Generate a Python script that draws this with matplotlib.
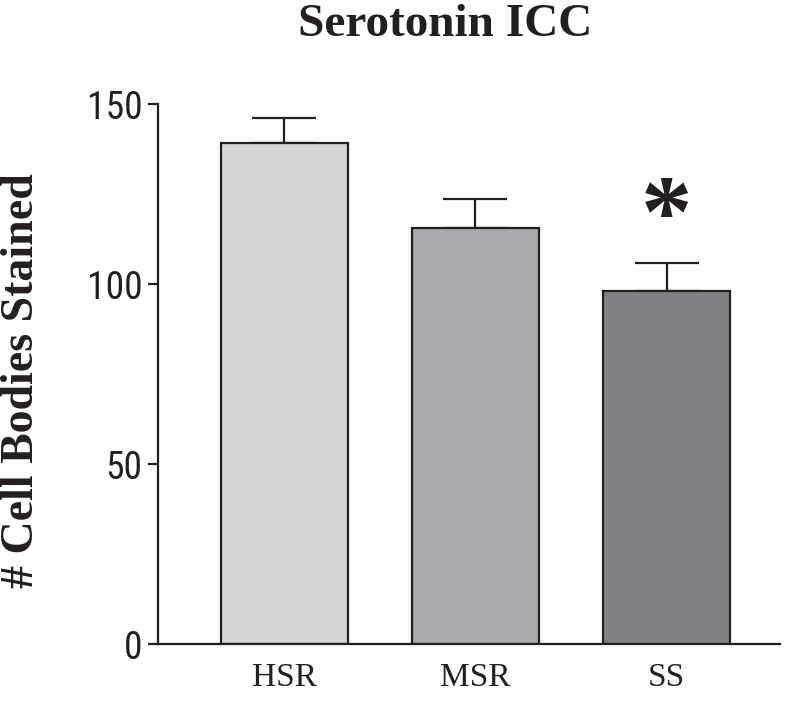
import numpy as np
import matplotlib
matplotlib.use("Agg")
import matplotlib.pyplot as plt

# values
groups = ["HSR", "MSR", "SS"]
means = [139.2, 115.6, 98.1]
sem = [7.0, 8.0, 7.7]
bar_colors = ["#d4d5d7", "#a9aaad", "#808184"]
yticks = [0, 50, 100, 150]

narrow = ["Liberation Sans Narrow", "Roboto Condensed", "Noto Sans Condensed", "Liberation Sans"]

fig = plt.figure(figsize=(8, 7.01), dpi=100)
ax = fig.add_axes([0.1975, 0.0813, 0.7775, 0.7703])

x = np.arange(len(groups))
ax.bar(x, means, width=0.665, color=bar_colors, edgecolor="#231f20", linewidth=1.6, zorder=2)
ax.errorbar(x, means, yerr=[np.zeros(len(sem)), sem], fmt="none", ecolor="#231f20",
            elinewidth=1.6, capsize=23, capthick=1.6, zorder=1)

# significance marker over SS
ax.text(x[2], means[2] + sem[2] + 4.8, "*", ha="center", va="baseline",
        fontsize=74, fontweight="bold", family="Liberation Serif", color="#231f20")

ax.set_xlim(-0.662, 2.594)
ax.set_ylim(0, 150)
ax.set_yticks(yticks)
ax.set_xticks(x)
ax.set_xticklabels(groups, family="Liberation Serif", fontsize=24)
for lab in ax.get_yticklabels():
    lab.set_family(narrow)
    lab.set_fontsize(27)

ax.spines["top"].set_visible(False)
ax.spines["right"].set_visible(False)
for s in ["left", "bottom"]:
    ax.spines[s].set_linewidth(1.6)
    ax.spines[s].set_color("#231f20")
ax.tick_params(axis="y", length=7, width=1.6, pad=4, color="#231f20", labelcolor="#231f20")
ax.tick_params(axis="x", length=0, pad=13, labelcolor="#231f20")

fig.text(0.556, 0.964, "Serotonin ICC", ha="center", va="center", fontsize=34,
         fontweight="bold", family="Liberation Serif", color="#231f20")
fig.text(0.028, 0.457, "# Cell Bodies Stained", ha="center", va="center", rotation=90,
         fontsize=33, fontweight="bold", family="Liberation Serif", color="#231f20")

fig.savefig("out.png", dpi=100)
